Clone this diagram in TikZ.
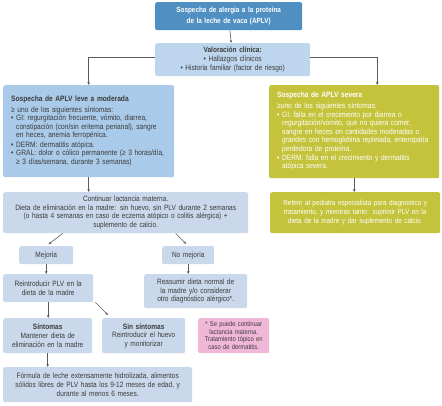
\documentclass[tikz,border=0pt]{standalone}
\usepackage{fontspec}
\setmainfont{Liberation Sans}[FakeStretch=0.85]
\usetikzlibrary{arrows.meta}

\definecolor{topblue}{HTML}{4F8FC1}
\definecolor{valblue}{HTML}{BDD6EE}
\definecolor{leveblue}{HTML}{A9CAE9}
\definecolor{stepblue}{HTML}{C9D9EB}
\definecolor{olive}{HTML}{C5C33B}
\definecolor{notepink}{HTML}{F1B7D7}
\definecolor{textgray}{HTML}{3C3C3C}
\definecolor{linegray}{HTML}{5C5C5C}

\setlength{\parindent}{0pt}
\newcommand{\bitem}[1]{\par\noindent\makebox[5pt][l]{\textbullet}\parbox[t]{\dimexpr\linewidth-5pt\relax}{#1\strut}}

\tikzset{
    box/.style={rounded corners=2pt, inner sep=0pt, anchor=north west, align=center,
        text=textgray, font=\fontsize{7.7}{8.6}\selectfont},
    titlebox/.style={box, fill=topblue, text=white, font=\fontsize{7.5}{10.5}\selectfont\bfseries},
    valbox/.style={box, fill=valblue, font=\fontsize{7.7}{8.8}\selectfont},
    levebox/.style={box, fill=leveblue, align=left, font=\fontsize{7.8}{8.5}\selectfont},
    sevbox/.style={box, fill=olive, text=white, align=left, font=\fontsize{7.8}{8.5}\selectfont},
    stepbox/.style={box, fill=stepblue},
    refbox/.style={box, fill=olive, text=white, font=\fontsize{7.5}{8.8}\selectfont},
    notebox/.style={box, fill=notepink, font=\fontsize{6.9}{7.6}\selectfont},
    conn/.style={->, draw=linegray, line width=0.6pt},
    >={Stealth[length=3pt, width=2.6pt]}
}

\begin{document}
\begin{tikzpicture}[x=1pt, y=-1pt]
    %\draw[lightgray] (0, 0) grid[step=20] (442, 405);
    \useasboundingbox (0, 0) rectangle (442, 405);

    \node[titlebox, minimum width=147pt, minimum height=28pt, text width=140pt] (top) at (155, 2)
        {Sospecha de alergia a la proteína\\ de la leche de vaca (APLV)};
    \node[valbox, minimum width=155pt, minimum height=33pt, text width=150pt] (val) at (155, 43)
        {\textbf{Valoración clínica:}\\ \textbullet\ Hallazgos clínicos\\ \textbullet\ Historia familiar (factor de riesgo)};

    \node[levebox, minimum width=171pt, minimum height=92pt, text width=155pt] (leve) at (3, 85)
        {\textbf{Sospecha de APLV leve a moderada}\par\vspace{2.5pt}
         ≥ uno de los siguientes síntomas:
         \bitem{GI: regurgitación frecuente, vómito, diarrea,\\ constipación (con/sin eritema perianal), sangre\\ en heces, anemia ferropénica.}
         \bitem{DERM: dermatitis atópica.}
         \bitem{GRAL: dolor o cólico permanente (≥ 3 horas/día,\\ ≥ 3 días/semana, durante 3 semanas)}};
    \node[sevbox, minimum width=170pt, minimum height=93pt, text width=154pt] (sev) at (269, 85)
        {\textbf{Sospecha de APLV severa}\par\vspace{2.5pt}
         ≥uno de los siguientes síntomas:
         \bitem{GI: falla en el crecimiento por diarrea o\\ regurgitación/vómito, que no quiera comer,\\ sangre en heces en cantidades moderadas o\\ grandes con hemoglobina repletada, enteropatía\\ perdedora de proteína.}
         \bitem{DERM: falla en el crecimiento y dermatitis\\ atópica severa.}};

    \node[stepbox, minimum width=245pt, minimum height=41pt, text width=240pt] (cont) at (3, 192)
        {Continuar lactancia materna.\\ Dieta de eliminación en la madre: sin huevo, sin PLV durante 2 semanas\\ (o hasta 4 semanas en caso de eczema atópico o colitis alérgica) +\\ suplemento de calcio.};
    \node[refbox, minimum width=170pt, minimum height=41pt, text width=165pt] (ref) at (270, 192)
        {Referir al pediatra especialista para diagnóstico y\\ tratamiento, y mientras tanto: suprimir PLV en la\\ dieta de la madre y dar suplemento de calcio.};

    \node[stepbox, minimum width=54pt, minimum height=18pt, text width=50pt] (mej) at (19, 246) {Mejoria};
    \node[stepbox, minimum width=52pt, minimum height=18pt, text width=50pt] (nomej) at (162, 246) {No mejoria};

    \node[stepbox, minimum width=90pt, minimum height=28pt, text width=86pt] (reint) at (3, 274)
        {Reintroducir PLV en la\\ dieta de la madre};
    \node[stepbox, minimum width=103pt, minimum height=34pt, text width=99pt] (reas) at (144, 274)
        {Reasumir dieta normal de\\ la madre y/o considerar\\ otro diagnóstico alérgico*.};

    \node[stepbox, minimum width=89pt, minimum height=35pt, text width=85pt] (sint) at (3, 318)
        {\textbf{Síntomas}\\ Mantener dieta de\\ eliminación en la madre};
    \node[stepbox, minimum width=83pt, minimum height=35pt, text width=80pt] (sinsint) at (102, 318)
        {\textbf{Sin síntomas}\\ Reintroducir el huevo\\ y monitorizar};
    \node[notebox, minimum width=71pt, minimum height=35pt, text width=69pt] (nota) at (198, 318)
        {* Se puede continuar\\ lactancia materna.\\ Tratamiento tópico en\\ caso de dermatitis.};

    \node[stepbox, minimum width=189pt, minimum height=35pt, text width=185pt] (form) at (3, 367)
        {Fórmula de leche extensamente hidrolizada, alimentos\\ sólidos libres de PLV hasta los 9-12 meses de edad, y\\ durante al menos 6 meses.};

    \draw[conn] (top) -- (val);
    \draw[conn] ([yshift=2pt]val.west) -| (leve.north);
    \draw[conn] ([yshift=2pt]val.east) -| ([xshift=23pt]sev.north);
    \draw[conn] (leve.south) -- (leve.south |- cont.north);
    \draw[conn] (sev.south) -- (sev.south |- ref.north);
    \draw[conn, shorten >=3pt] ([xshift=-63pt]cont.south) -- (mej.north);
    \draw[conn, shorten >=3pt] ([xshift=50pt]cont.south) -- (nomej.north);
    \draw[conn] (mej) -- (mej.south |- reint.north);
    \draw[conn] (nomej) -- (nomej.south |- reas.north);
    \draw[conn] (reint.south) -- (reint.south |- sint.north);
    \draw[conn] ([xshift=2pt]reint.south east) -- ([xshift=6pt, yshift=3pt]sinsint.north west);
    \draw[conn] (sint.south) -- (sint.south |- form.north);
\end{tikzpicture}
\end{document}
